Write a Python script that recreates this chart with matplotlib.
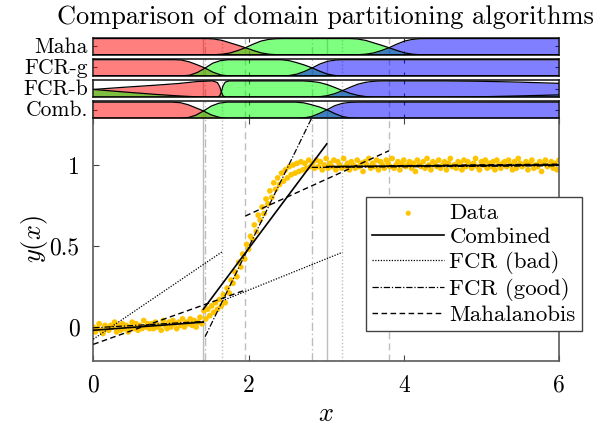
import numpy as np
import matplotlib
matplotlib.use("Agg")
import matplotlib.pyplot as plt

plt.rcParams["font.family"] = "serif"
plt.rcParams["font.serif"] = ["cmr10"]
plt.rcParams["mathtext.fontset"] = "cm"
plt.rcParams["axes.formatter.use_mathtext"] = True

# ---- data ----
# noisy samples, x grid 0..6 step 0.025
data_y = [
    -0.00, -0.03, -0.01, 0.02, -0.02, -0.04, 0.01, -0.01, -0.02, 0.01,
    0.00, 0.03, -0.03, 0.01, -0.02, 0.02, -0.01, 0.01, -0.03, 0.00,
    0.03, -0.01, 0.02, -0.02, 0.01, -0.01, 0.04, 0.00, 0.02, -0.01,
    0.02, -0.01, 0.03, 0.00, 0.01, -0.02, 0.04, 0.01, -0.01, 0.03,
    0.00, 0.04, 0.02, -0.01, 0.03, 0.01, 0.05, 0.00, 0.03, 0.02,
    0.05, 0.01, 0.04, 0.00, 0.03, 0.06, 0.02,
    0.10, 0.05, 0.11, 0.07, 0.13, 0.09, 0.15, 0.11, 0.17, 0.13,
    0.20, 0.15, 0.24, 0.21, 0.29, 0.27, 0.34, 0.31, 0.40, 0.37,
    0.45, 0.42, 0.51, 0.48, 0.56, 0.54, 0.63, 0.59, 0.69, 0.66,
    0.74, 0.70, 0.79, 0.76, 0.84, 0.80, 0.89, 0.85, 0.92, 0.88,
    0.95, 0.90, 0.97, 0.92, 0.99, 0.94, 1.00, 0.95, 1.01, 0.96,
    1.02, 0.97, 1.01, 0.98, 1.03, 0.99,
    1.01, 0.98, 1.03, 0.99, 1.02, 0.97, 1.00, 1.04, 0.98, 1.01,
    0.99, 1.03, 0.97, 1.02, 1.00, 0.98, 1.04, 0.99, 1.01, 0.97,
    1.02, 1.00, 0.98, 1.03, 0.99, 1.01, 0.96, 1.02, 1.00, 1.04,
    0.98, 1.01, 0.99, 1.03, 0.97, 1.02, 1.00, 0.98, 1.03, 1.01,
    0.99, 1.04, 0.98, 1.00, 1.02, 0.97, 1.01, 1.03, 0.99, 1.00,
    1.02, 0.98, 1.01, 0.96, 1.03, 1.00, 0.99, 1.02, 0.98, 1.04,
    1.00, 0.97, 1.02, 1.01, 0.99, 1.03, 0.98, 1.00, 1.02, 0.97,
    1.01, 1.04, 0.99, 1.00, 0.98, 1.02, 1.01, 0.97, 1.03, 0.99,
    1.02, 1.00, 0.98, 1.01, 1.04, 0.99, 0.97, 1.02, 1.00, 1.03,
    0.98, 1.01, 0.99, 1.02, 0.97, 1.03, 1.00, 0.98, 1.01, 1.02,
    0.99, 1.03, 1.00, 0.97, 1.02, 0.98, 1.04, 1.01, 0.99, 1.00,
    1.02, 0.97, 1.01, 1.03, 0.98, 1.00, 0.99, 1.02, 0.96, 1.01,
    1.03, 0.99, 1.00, 1.02, 0.98, 1.01, 0.97, 1.03,
]
data_x = np.linspace(0, 6, len(data_y))

# piecewise linear fits: (x0, x1, y0, y1) per segment
combined_segs = [(0, 1.418, -0.02, 0.03), (1.418, 3.008, 0.11, 1.13), (3.008, 6, 0.99, 1.0)]
fcr_bad_segs = [(0, 1.662, -0.075, 0.465), (1.662, 3.209, 0.162, 0.461), (3.209, 6, 0.99, 1.0)]
fcr_good_segs = [(0, 1.44, -0.005, 0.035), (1.44, 2.814, -0.06, 1.29), (2.814, 6, 0.985, 0.995)]
maha_segs = [(0, 1.959, -0.107, 0.228), (1.959, 3.811, 0.685, 1.088), (3.811, 6, 0.995, 1.005)]

combined_bounds = [1.418, 3.008]
fcr_bad_bounds = [1.662, 3.209]
fcr_good_bounds = [1.44, 2.814]
maha_bounds = [1.959, 3.811]

# membership curves per partition row
row_names = ["Maha", "FCR-g", "FCR-b", "Comb."]

maha_x = [0, 1.46, 1.56, 1.66, 1.76, 1.86, 1.96, 2.06, 2.16, 2.26, 2.36, 2.46,
          3.31, 3.41, 3.51, 3.61, 3.71, 3.81, 3.91, 4.01, 4.11, 4.21, 4.31, 6]
maha_red = [0.95, 0.95, 0.92, 0.84, 0.70, 0.56, 0.41, 0.25, 0.11, 0.03, 0.0, 0.0,
            0, 0, 0, 0, 0, 0, 0, 0, 0, 0, 0, 0]
maha_green = [0, 0, 0, 0.03, 0.10, 0.24, 0.41, 0.62, 0.80, 0.90, 0.94, 0.95,
              0.95, 0.92, 0.84, 0.70, 0.56, 0.41, 0.25, 0.11, 0.03, 0, 0, 0]
maha_blue = [0, 0, 0, 0, 0, 0, 0, 0, 0, 0, 0, 0,
             0, 0, 0.03, 0.10, 0.24, 0.41, 0.62, 0.80, 0.90, 0.94, 0.95, 0.95]

fcrg_x = [0, 1.04, 1.14, 1.24, 1.34, 1.44, 1.54, 1.64, 1.74,
          2.42, 2.52, 2.62, 2.72, 2.82, 2.92, 3.02, 3.12, 3.22, 6]
fcrg_red = [0.95, 0.95, 0.93, 0.82, 0.65, 0.46, 0.22, 0.06, 0.0,
            0, 0, 0, 0, 0, 0, 0, 0, 0, 0]
fcrg_green = [0, 0, 0, 0.04, 0.20, 0.46, 0.75, 0.90, 0.95,
              0.95, 0.90, 0.78, 0.64, 0.47, 0.27, 0.10, 0.02, 0, 0]
fcrg_blue = [0, 0, 0, 0, 0, 0, 0, 0, 0,
             0, 0.02, 0.10, 0.26, 0.47, 0.70, 0.86, 0.93, 0.95, 0.95]

fcrb_x = [0, 0.4, 0.8, 1.1, 1.35, 1.54, 1.60, 1.63, 1.65, 1.67, 1.70, 1.75,
          2.71, 2.81, 2.91, 3.01, 3.11, 3.21, 3.31, 3.41, 3.51, 3.61, 3.71,
          4.5, 5.0, 5.5, 6.0]
fcrb_red = [0.45, 0.58, 0.70, 0.80, 0.92, 0.95, 0.85, 0.60, 0.30, 0.08, 0.0, 0.0,
            0, 0, 0, 0, 0, 0, 0, 0, 0, 0, 0,
            0, 0, 0, 0]
fcrb_green = [0.45, 0.30, 0.16, 0.07, 0.01, 0.0, 0.0, 0.08, 0.30, 0.65, 0.88, 0.95,
              0.95, 0.92, 0.86, 0.74, 0.57, 0.38, 0.22, 0.10, 0.03, 0.0, 0.0,
              0.0, 0.02, 0.07, 0.13]
fcrb_blue = [0, 0, 0, 0, 0, 0, 0, 0, 0, 0, 0, 0,
             0, 0.0, 0.02, 0.08, 0.20, 0.38, 0.58, 0.76, 0.87, 0.93, 0.95,
             0.95, 0.93, 0.88, 0.81]

comb_x = [0, 1.02, 1.12, 1.22, 1.32, 1.42, 1.52, 1.62, 1.72,
          2.61, 2.71, 2.81, 2.91, 3.01, 3.11, 3.21, 3.31, 3.41, 6]
comb_red = [0.95, 0.95, 0.92, 0.80, 0.62, 0.43, 0.20, 0.06, 0.0,
            0, 0, 0, 0, 0, 0, 0, 0, 0, 0]
comb_green = [0, 0, 0, 0.04, 0.18, 0.43, 0.72, 0.89, 0.95,
              0.95, 0.91, 0.80, 0.67, 0.50, 0.28, 0.10, 0.02, 0.0, 0.0]
comb_blue = [0, 0, 0, 0, 0, 0, 0, 0, 0,
             0, 0.02, 0.10, 0.28, 0.50, 0.74, 0.88, 0.94, 0.95, 0.95]

rows = [
    (maha_x, maha_red, maha_green, maha_blue),
    (fcrg_x, fcrg_red, fcrg_green, fcrg_blue),
    (fcrb_x, fcrb_red, fcrb_green, fcrb_blue),
    (comb_x, comb_red, comb_green, comb_blue),
]

# ---- layout (pixels of a 608x430 canvas) ----
W, H = 608, 430


def px_rect(left, top, right, bottom):
    return [left / W, 1 - bottom / H, (right - left) / W, (bottom - top) / H]


fig = plt.figure(figsize=(W / 100, H / 100), dpi=100)
ax = fig.add_axes(px_rect(93.3, 118.3, 559, 360.7))

vgray = "#bdbdbd"
bound_styles = [
    (combined_bounds, "-"),
    (fcr_bad_bounds, (0, (1, 1.5))),
    (fcr_good_bounds, (0, (6, 2, 1, 2))),
    (maha_bounds, (0, (5, 3))),
]


def draw_bounds(a):
    for xs, ls in bound_styles:
        for xb in xs:
            a.axvline(xb, color=vgray, lw=1.0, ls=ls, zorder=1)


draw_bounds(ax)

gold = "#FFC400"
ax.scatter(data_x, data_y, s=17, color=gold, edgecolors="none", zorder=2, label="Data")

line_specs = [
    (combined_segs, "-", 1.2, "Combined"),
    (fcr_bad_segs, (0, (1, 1.2)), 0.9, "FCR (bad)"),
    (fcr_good_segs, (0, (5, 1.5, 1, 1.5)), 0.9, "FCR (good)"),
    (maha_segs, (0, (4, 2.5)), 1.0, "Mahalanobis"),
]
for segs, ls, lw, name in line_specs:
    for k, (x0, x1, y0, y1) in enumerate(segs):
        ax.plot([x0, x1], [y0, y1], color="black", ls=ls, lw=lw, zorder=3,
                label=name if k == 0 else None)

ax.set_xlim(0, 6)
ax.set_ylim(-0.208, 1.288)
ax.set_xticks([0, 2, 4, 6])
ax.set_xticklabels(["0", "2", "4", "6"])
ax.set_yticks([0, 0.5, 1])
ax.set_yticklabels(["0", "0.5", "1"])
ax.tick_params(direction="in", length=4, width=0.8, labelsize=17, pad=10,
               top=True, right=True, color="#444444")
for s in ax.spines.values():
    s.set_color("#5a5a5a")
    s.set_linewidth(1.2)
ax.set_xlabel("$x$", fontsize=19, labelpad=4)
ax.set_ylabel("$y(x)$", fontsize=19)
ax.yaxis.set_label_coords(-0.092, 0.5)

leg = ax.legend(loc="upper left", bbox_to_anchor=(366 / W, 1 - 197 / H),
                bbox_transform=fig.transFigure, borderaxespad=0, fontsize=16.5,
                fancybox=False, framealpha=1, edgecolor="#444444",
                handlelength=3.15, handletextpad=0.22, labelspacing=0.17,
                scatterpoints=1, markerscale=0.9, borderpad=0.27)
leg.get_frame().set_linewidth(1.0)

# ---- partition rows ----
row_tops = [37.7, 58.9, 80.1, 101.3]
row_h = 17.0
for name, top, (xs, r, g, b) in zip(row_names, row_tops, rows):
    rax = fig.add_axes(px_rect(93.3, top, 559, top + row_h))
    draw_bounds(rax)
    for vals, col in [(r, (1, 0, 0)), (g, (0, 1, 0)), (b, (0, 0, 1))]:
        rax.fill_between(xs, 0, vals, color=col, alpha=0.5, lw=0, zorder=2)
    for vals in (r, g, b):
        rax.plot(xs, vals, color="black", lw=0.9, zorder=3)
    rax.set_xlim(0, 6)
    rax.set_ylim(0, 1.0)
    rax.set_xticks([2, 4])
    rax.set_yticks([0.5])
    rax.tick_params(direction="in", length=3, width=0.8, labelbottom=False,
                    labelleft=False, top=True, right=True, color="#333333")
    for s in rax.spines.values():
        s.set_color("#222222")
        s.set_linewidth(1.2)
    rax.text(-0.012, 0.45, name, transform=rax.transAxes, ha="right",
             va="center", fontsize=15.5)

fig.text(0.536, 1 - 17 / H, "Comparison of domain partitioning algorithms",
         ha="center", va="center", fontsize=19)

fig.savefig("out.png", dpi=100)
